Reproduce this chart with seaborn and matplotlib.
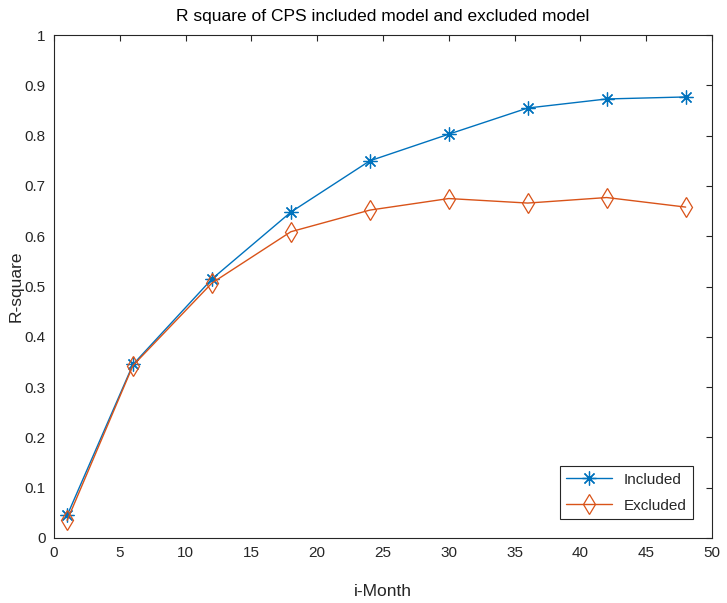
import matplotlib
matplotlib.use("Agg")
import matplotlib.pyplot as plt
import numpy as np
import pandas as pd
import seaborn as sns
from matplotlib.ticker import FormatStrFormatter, MultipleLocator

# data
months = [1, 6, 12, 18, 24, 30, 36, 42, 48]
included = [0.045, 0.345, 0.515, 0.648, 0.750, 0.803, 0.855, 0.873, 0.877]
excluded = [0.035, 0.343, 0.507, 0.609, 0.652, 0.675, 0.666, 0.677, 0.658]
series = ["Included", "Excluded"]

df = pd.DataFrame(
    {
        "month": months * 2,
        "r2": included + excluded,
        "model": ["Included"] * len(months) + ["Excluded"] * len(months),
    }
)

sns.set_theme(style="white")
plt.rcParams["font.family"] = ["Liberation Sans", "DejaVu Sans"]
text_col = "#262626"

fig = plt.figure(figsize=(7.27, 6.03), dpi=100)
ax = fig.add_axes([0.0743, 0.1078, 0.905, 0.834])

sns.lineplot(
    data=df,
    x="month",
    y="r2",
    hue="model",
    style="model",
    hue_order=series,
    style_order=series,
    palette=["#0072BD", "#D95319"],
    markers={"Included": "*", "Excluded": "d"},
    dashes=False,
    linewidth=1.0,
    markersize=10,
    legend=False,
    ax=ax,
)

# matlab style asterisk and open diamond
marker_map = {"Included": (8, 2, 0), "Excluded": "d"}
for line, name in zip(ax.lines, series):
    line.set_label(name)
    line.set_marker(marker_map[name])
    line.set_markerfacecolor("none")
    line.set_markeredgecolor(line.get_color())
    line.set_markeredgewidth(0.9)

ax.set_xlim(0, 50)
ax.set_ylim(0, 1)
ax.xaxis.set_major_locator(MultipleLocator(5))
ax.yaxis.set_major_locator(MultipleLocator(0.1))
ax.yaxis.set_major_formatter(FormatStrFormatter("%g"))
ax.tick_params(
    direction="in", top=True, right=True, length=4, width=0.8,
    colors=text_col, labelsize=11, pad=6,
)
for sp in ax.spines.values():
    sp.set_color(text_col)
    sp.set_linewidth(0.8)

ax.set_xlabel("i-Month", fontsize=12.5, color=text_col, labelpad=17)
ax.set_ylabel("R-square", fontsize=12.5, color=text_col, labelpad=1)
ax.set_title("R square of CPS included model and excluded model",
             fontsize=12.5, color="black", pad=10)

leg = ax.legend(loc="lower right", fancybox=False, framealpha=1,
                edgecolor=text_col, fontsize=11, handlelength=3,
                labelspacing=0.8, borderaxespad=1.25)
leg.get_frame().set_linewidth(0.8)

fig.savefig("out.png", dpi=100)
